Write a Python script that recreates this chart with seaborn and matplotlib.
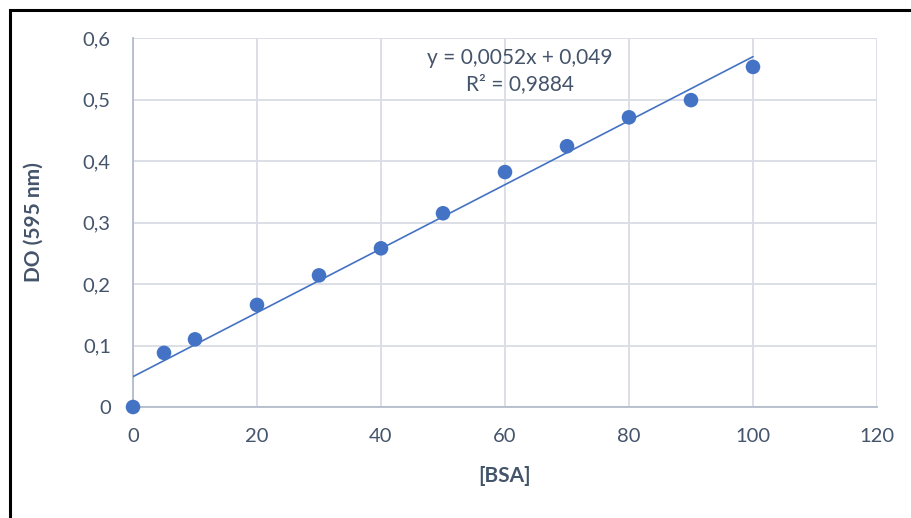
import seaborn as sns
import matplotlib.pyplot as plt
import pandas as pd
from matplotlib.patches import Rectangle

bsa = [0, 5, 10, 20, 30, 40, 50, 60, 70, 80, 90, 100]
do595 = [0.0, 0.088, 0.110, 0.166, 0.214, 0.258, 0.315, 0.382, 0.424, 0.471, 0.499, 0.553]
x_ticks = [0, 20, 40, 60, 80, 100, 120]
y_ticks = [0, 0.1, 0.2, 0.3, 0.4, 0.5, 0.6]
y_tick_labels = ["0", "0,1", "0,2", "0,3", "0,4", "0,5", "0,6"]
equation = "y = 0,0052x + 0,049\nR² = 0,9884"

df = pd.DataFrame({"BSA": bsa, "DO": do595})

sns.set_style("white")
plt.rcParams['font.family'] = ['Lato', 'DejaVu Sans']

text_col = "#44546A"
blue = "#4472C4"

fig = plt.figure(figsize=(9.12, 5.18), dpi=100)
ax = fig.add_axes([133 / 912, 1 - 407 / 518, 744 / 912, 369 / 518])

sns.regplot(x="BSA", y="DO", data=df, ax=ax, ci=None, truncate=True,
            scatter_kws=dict(s=110, color=blue, edgecolor="none", alpha=1, zorder=4, clip_on=False),
            line_kws=dict(color=blue, lw=1.2, zorder=3))

ax.set_xlim(0, 120)
ax.set_ylim(0, 0.6)
ax.set_xticks(x_ticks)
ax.set_yticks(y_ticks)
ax.set_yticklabels(y_tick_labels)
ax.grid(True, color="#D9DDE4", lw=1.3)
ax.set_axisbelow(True)
for s in ["top", "right"]:
    ax.spines[s].set_visible(False)
for s in ["left", "bottom"]:
    ax.spines[s].set_color("#B4BCCB")
    ax.spines[s].set_linewidth(1.3)
ax.tick_params(axis="both", length=0, labelsize=14.5, colors=text_col)
ax.tick_params(axis="y", pad=16)
ax.tick_params(axis="x", pad=15)

ax.set_xlabel("[BSA]", fontsize=15, fontweight="bold", color=text_col)
ax.set_ylabel("DO (595 nm)", fontsize=15, fontweight="bold", color=text_col)
ax.xaxis.set_label_coords(0.5, -0.187)
ax.yaxis.set_label_coords(-0.134, 0.5)
ax.xaxis.label.set_va("center")
ax.yaxis.label.set_va("center")

ax.text(62.4, 0.546, equation, ha="center", va="center", fontsize=15,
        color=text_col, linespacing=1.4)

fig.patches.append(Rectangle((10 / 912, -0.1), 1.2, (1 - 10 / 518) + 0.1,
                             transform=fig.transFigure, fill=False,
                             edgecolor="black", lw=2.2))

fig.savefig("out.png", dpi=100)
